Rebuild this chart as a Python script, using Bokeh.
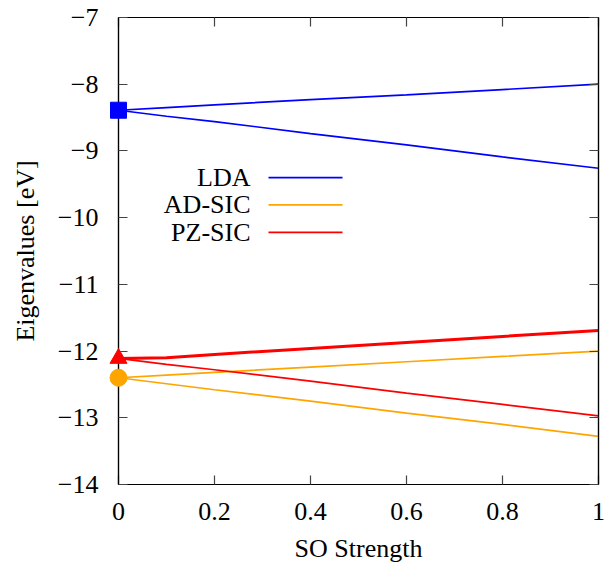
from bokeh.plotting import figure
from bokeh.models import LinearAxis, Label, Range1d, FixedTicker
from bokeh.embed import file_html
from bokeh.resources import INLINE

# ---- data ----
so = [0.0, 0.1, 0.2, 0.4, 0.6, 0.8, 1.0]
lda_up = [-8.39, -8.35, -8.31, -8.23, -8.16, -8.08, -8.00]
lda_dn = [-8.39, -8.48, -8.56, -8.74, -8.91, -9.09, -9.26]
ad_up = [-12.40, -12.36, -12.32, -12.24, -12.16, -12.08, -12.00]
ad_dn = [-12.40, -12.49, -12.58, -12.75, -12.93, -13.10, -13.28]
pz_up = [-12.11, -12.10, -12.05, -11.96, -11.87, -11.78, -11.69]
pz_dn = [-12.11, -12.20, -12.28, -12.45, -12.63, -12.80, -12.97]
start_x = [0.0]
lda_start = [-8.39]
ad_start = [-12.40]
pz_start = [-12.11]

x_ticks = [0, 0.2, 0.4, 0.6, 0.8, 1]
x_tick_labels = ["0", "0.2", "0.4", "0.6", "0.8", "1"]
y_ticks = [-14, -13, -12, -11, -10, -9, -8, -7]
y_tick_labels = ["−14", "−13", "−12", "−11", "−10", "−9", "−8", "−7"]
series_names = ["LDA", "AD-SIC", "PZ-SIC"]
series_colors = ["#0000ff", "#ffa500", "#ff0000"]

FONT = "Liberation Serif"
FS = "26px"

p = figure(width=608, height=565, output_backend="svg", toolbar_location=None,
           x_range=Range1d(0, 1), y_range=Range1d(-14, -7),
           min_border_left=118, min_border_right=10, min_border_top=17,
           min_border_bottom=79, x_axis_label="SO Strength",
           y_axis_label="Eigenvalues [eV]")
p.xgrid.visible = False
p.ygrid.visible = False
p.outline_line_color = "black"
p.outline_line_width = 1.2
p.background_fill_color = "white"
p.border_fill_color = "white"

def style_axis(ax, show_labels=True):
    ax.axis_line_color = "black"
    ax.axis_line_width = 1.2
    ax.major_tick_in = 9
    ax.major_tick_out = 0
    ax.minor_tick_line_color = None
    ax.major_tick_line_color = "#444444"
    ax.major_tick_line_width = 1.2
    ax.major_label_text_font = FONT
    ax.major_label_text_font_size = FS
    ax.major_label_text_color = "black"
    ax.axis_label_text_font = FONT
    ax.axis_label_text_font_size = FS
    ax.axis_label_text_font_style = "normal"
    ax.axis_label_text_color = "black"
    if not show_labels:
        ax.major_label_text_font_size = "0px"
        ax.major_label_text_alpha = 0

xax = p.xaxis[0]
yax = p.yaxis[0]
xax.ticker = FixedTicker(ticks=x_ticks)
yax.ticker = FixedTicker(ticks=y_ticks)
xax.major_label_overrides = {t: l for t, l in zip(x_ticks, x_tick_labels)}
yax.major_label_overrides = {t: l for t, l in zip(y_ticks, y_tick_labels)}
style_axis(xax)
style_axis(yax)
xax.major_label_standoff = 18
yax.major_label_standoff = 20
xax.axis_label_standoff = 11
yax.axis_label_standoff = 15

top = LinearAxis(ticker=FixedTicker(ticks=x_ticks))
right = LinearAxis(ticker=FixedTicker(ticks=y_ticks))
style_axis(top, False)
style_axis(right, False)
top.major_label_standoff = 0
right.major_label_standoff = 0
p.add_layout(top, "above")
p.add_layout(right, "right")

# ---- lines ----
p.line(so, lda_up, line_color=series_colors[0], line_width=1.7)
p.line(so, lda_dn, line_color=series_colors[0], line_width=1.7)
p.line(so, ad_up, line_color=series_colors[1], line_width=1.7)
p.line(so, ad_dn, line_color=series_colors[1], line_width=1.7)
p.line(so, pz_up, line_color=series_colors[2], line_width=3.0)
p.line(so, pz_dn, line_color=series_colors[2], line_width=1.7)

# ---- start markers (not clipped by the frame) ----
markers = [
    p.scatter(start_x, lda_start, marker="square", size=16, color=series_colors[0]),
    p.scatter(start_x, ad_start, marker="circle", size=17, color=series_colors[1]),
    p.scatter(start_x, pz_start, marker="triangle", size=17, color=series_colors[2]),
]
for r in markers:
    r.level = "overlay"
    if "clip" in r.properties():
        r.clip = False

# ---- legend (text right-aligned, line sample on the right) ----
leg_y = [-9.40, -9.81, -10.22]
leg_text_x = 0.275
leg_line_x0 = 0.3125
leg_line_x1 = 0.4667
for name, col, yy in zip(series_names, series_colors, leg_y):
    p.add_layout(Label(x=leg_text_x, y=yy, text=name, text_align="right",
                       text_baseline="middle", text_font=FONT,
                       text_font_size=FS, text_color="black"))
    p.line([leg_line_x0, leg_line_x1], [yy, yy], line_color=col, line_width=1.7)

open("out.html", "w").write(file_html(p, INLINE))
